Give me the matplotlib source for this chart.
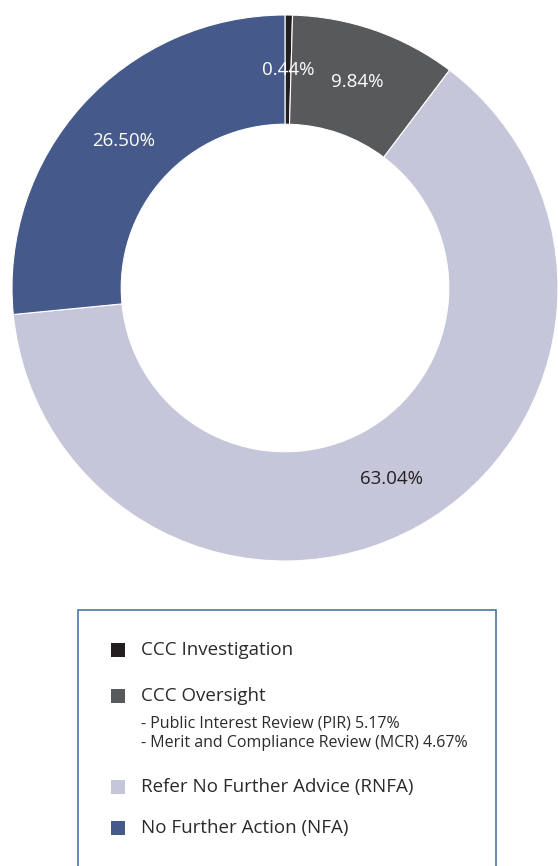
import matplotlib
matplotlib.use("Agg")
import matplotlib.pyplot as plt
import numpy as np
from matplotlib.patches import Rectangle

categories = ["CCC Investigation", "CCC Oversight", "Refer No Further Advice (RNFA)", "No Further Action (NFA)"]
values = [0.44, 9.84, 63.04, 26.50]
value_labels = ["0.44%", "9.84%", "63.04%", "26.50%"]
colors = ["#231f20", "#58595b", "#c5c6d9", "#455a8a"]
text_colors = ["white", "white", "#231f20", "white"]
oversight_sub = ["- Public Interest Review (PIR) 5.17%", "- Merit and Compliance Review (MCR) 4.67%"]

plt.rcParams['font.family'] = ['Open Sans', 'DejaVu Sans']

W, H = 558, 866
fig = plt.figure(figsize=(W / 100, H / 100), dpi=100)

cx, cy, R = 285, 288, 273
ax = fig.add_axes([(cx - R) / W, (H - cy - R) / H, 2 * R / W, 2 * R / H])
wedges, _ = ax.pie(values, colors=colors, startangle=90, counterclock=False,
                   radius=1.0, wedgeprops=dict(width=0.40, edgecolor="white", linewidth=0.8))
ax.set_xlim(-1, 1)
ax.set_ylim(-1, 1)
ax.set_aspect("equal")
ax.axis("off")

for w, lab, tc in zip(wedges, value_labels, text_colors):
    ang = np.deg2rad((w.theta1 + w.theta2) / 2)
    r = 0.80
    ax.text(r * np.cos(ang), r * np.sin(ang), lab, ha="center", va="center",
            color=tc, fontsize=13.5)

# legend box
def fx(x):
    return x / W

def fy(y):
    return 1 - y / H

box = Rectangle((fx(78), fy(880)), fx(496) - fx(78), fy(610) - fy(880),
                transform=fig.transFigure, fill=False, edgecolor="#4a76a8", linewidth=1.2,
                clip_on=False)
fig.patches.append(box)

rows_y = [650, 696, 787, 828]
for cat, col, y in zip(categories, colors, rows_y):
    sq = Rectangle((fx(111), fy(y + 7)), fx(14), 14 / H, transform=fig.transFigure,
                   facecolor=col, edgecolor="none")
    fig.patches.append(sq)
    fig.text(fx(141), fy(y), cat, ha="left", va="center", fontsize=13.5, color="#2b2b2b")

for txt, y in zip(oversight_sub, [723, 743]):
    fig.text(fx(141), fy(y), txt, ha="left", va="center", fontsize=11.5, color="#2b2b2b")

fig.savefig("out.png", dpi=100, facecolor="white")
